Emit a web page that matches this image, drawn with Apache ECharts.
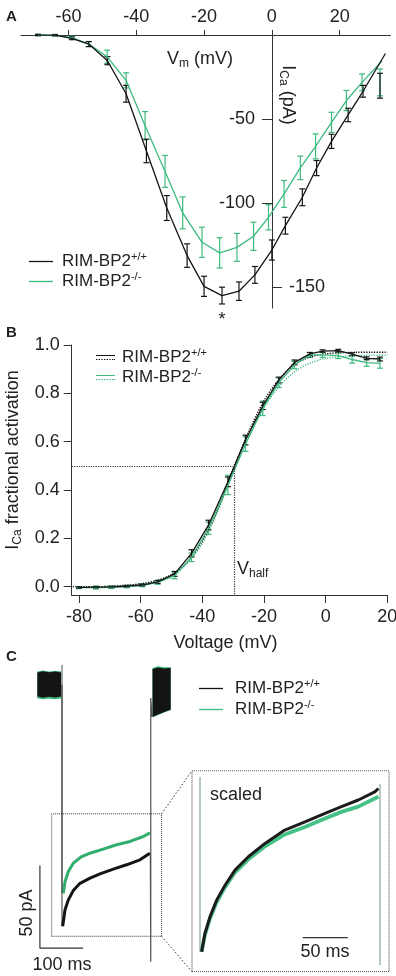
<!DOCTYPE html>
<html>
<head>
<meta charset="utf-8">
<script src="https://cdn.jsdelivr.net/npm/echarts@6/dist/echarts.min.js"></script>
<style>
  html, body { margin: 0; padding: 0; background: #fff; }
  #chart { width: 396px; height: 976px; }
</style>
</head>
<body>
<div id="chart"></div>
<script>
// ---------- panel A : I-V curve ----------
const ivWtV = [-69, -64, -59, -54, -48.5, -43, -37, -31, -25, -20, -14.7, -9.7, -5, 0, 4, 9, 13.2, 17.6, 22.5, 26.9, 31.9];
const ivWtI = [0, -0.1, -2, -5.4, -15.3, -35, -69, -103, -131.3, -149.6, -155.1, -152.5, -142.8, -128, -113.5, -96.6, -79.2, -63.3, -47.6, -33.5, -30.2];
const ivWtErr = [0.4, 0.4, 0.8, 1.5, 2.4, 5, 7, 7.4, 7, 6, 5, 5.5, 5, 6, 5, 5, 4.5, 4.2, 4, 3.5, 7.4];
const ivWtEnd = [33.5, -11];
const ivKoV = [-69, -64, -59, -54, -48.6, -43, -37.4, -31.5, -26.3, -20.6, -15.4, -10.3, -5.4, -1, 3.6, 8.4, 12.9, 17.6, 22, 26.6, 31.9];
const ivKoI = [0, -0.2, -1.6, -5.4, -13, -27, -54, -81.2, -105.9, -123.4, -129.7, -126.4, -119.8, -108.5, -94.6, -79.1, -66.3, -52, -39, -28.2, -28.2];
const ivKoErr = [0.4, 0.4, 0.8, 1.5, 4, 4.5, 8.4, 9.5, 9.5, 9, 9, 8.3, 8.4, 7.5, 8, 7, 7.4, 6, 6, 5, 8];
const ivKoEnd = [32.5, -15.5];
const ivXTicks = [-60, -40, -20, 0, 20];
const ivYTicksLeft = [-50, -100];
const ivYTicksRight = [-150];

// ---------- panel B : activation ----------
const actV = [-80, -74.5, -69.5, -64.5, -59.5, -54.5, -49, -43.5, -38, -31.7, -26, -20.4, -15.2, -10.1, -5.1, -1, 4.1, 8.6, 13.3, 17.6];
const actWt = [-0.003, -0.002, -0.001, 0.002, 0.007, 0.02, 0.053, 0.138, 0.255, 0.434, 0.607, 0.748, 0.855, 0.928, 0.963, 0.975, 0.977, 0.962, 0.945, 0.942];
const actWtErr = [0.003, 0.003, 0.003, 0.003, 0.004, 0.006, 0.01, 0.015, 0.02, 0.02, 0.02, 0.015, 0.012, 0.01, 0.006, 0.005, 0.005, 0.006, 0.006, 0.008];
const actKo = [-0.004, -0.004, -0.003, 0, 0.005, 0.018, 0.045, 0.122, 0.242, 0.421, 0.59, 0.738, 0.844, 0.917, 0.959, 0.959, 0.956, 0.94, 0.927, 0.924];
const actKoErr = [0.004, 0.006, 0.004, 0.004, 0.005, 0.008, 0.012, 0.018, 0.025, 0.04, 0.03, 0.03, 0.02, 0.015, 0.01, 0.01, 0.012, 0.015, 0.015, 0.02];
const fitV = [-82, -75, -70, -65, -60, -55, -50, -45, -40, -35, -30, -25, -20, -15, -10, -5, 0, 5, 10, 15, 20];
const fitWt = [0, 0, 0.002, 0.006, 0.012, 0.025, 0.05, 0.1, 0.19, 0.32, 0.49, 0.64, 0.77, 0.86, 0.92, 0.95, 0.963, 0.968, 0.97, 0.97, 0.97];
const fitKo = [0, 0, 0.002, 0.006, 0.012, 0.024, 0.048, 0.095, 0.18, 0.31, 0.47, 0.62, 0.74, 0.83, 0.89, 0.925, 0.945, 0.952, 0.956, 0.958, 0.958];
const vHalf = -29.8;
const actXTicks = [-80, -60, -40, -20, 0, 20];
const actYTicks = [0, 0.2, 0.4, 0.6, 0.8, 1.0];

// ---------- panel C : current traces (ms, pA) ----------
const holdT = [-57, -44, -30, -16, -2];
const holdWtHi = [7.5, 8.2, 7.6, 8.0, 7.4];
const holdWtLo = [-7.0, -7.8, -7.2, -7.6, -7.0];
const holdKoHi = [8.0, 8.6, 8.0, 8.4, 8.2];
const holdKoLo = [-8.2, -8.8, -8.4, -8.7, -8.2];
const tailT = [209, 222, 236, 251];
const tailWtHi = [9.5, 10.5, 9.8, 10.2];
const tailWtLo = [-19.5, -18.0, -16.5, -15.0];
const tailKoHi = [10.2, 11.2, 10.6, 10.8];
const tailKoLo = [-19.8, -18.3, -16.8, -15.3];
const stepOn = 0, stepOff = 205, tailPeak = -167.4, tailReturn = -8;
const wtDecayT = [1.6, 7, 14.6, 26, 41.6, 64.7, 87.8, 118.5, 149, 180, 203];
const wtDecayI = [-146, -136, -130, -124.4, -120, -116.9, -114.3, -111.4, -108.8, -105.8, -101.8];
const koDecayT = [3, 7, 14.6, 26, 45.5, 64.7, 95, 126, 157, 188, 203];
const koDecayI = [-126, -119, -112.9, -107.8, -103.8, -101.8, -99.3, -96.7, -94.7, -91.7, -89.5];
const insetT = [-23.8, 230];
const insetI = [-152, -78];
const scaleBarLeft = { t: -51, i: -159.2, dt: 100, di: 50 };

// scaled inset (ms from step onset, pA scaled to wild-type peak)
const zoomWinT = [-11.1, 207.8];
const zoomWinI = [-150.8, -96.6];
const zoomT = [-0.4, 3.3, 8.9, 16.3, 25.6, 36.7, 51.5, 70, 92, 114.4, 136.7, 155, 173.7, 192, 196];
const zoomWt = [-145.4, -140.5, -136, -131.5, -127.5, -123.4, -119.8, -116.2, -112.6, -110.4, -108.1, -106.3, -104.5, -102.3, -101.4];
const zoomKo = [-145.4, -140.8, -136.4, -132, -128, -124, -120.5, -117, -113.8, -111.8, -109.5, -107.7, -106.3, -104.1, -103.6];
const zoomOnLine = [-2.2, -98.3, -145.4];
const zoomOffLine = [197.8, -100.1, -149];
const scaleBarRight = { t: 112, i: -141.6, dt: 50 };

const BLACK = '#141414';
const GREEN = '#3dba7e';
const AXIS = '#333';
const FONT = 'Liberation Sans, Arial, sans-serif';
const BAR_ICON = 'path://M0,0H20V1H0Z';
const PAIR_ICON = 'path://M0,0H20V1H0Z M0,4H1.4V5H0Z M2.8,4H4.2V5H2.8Z M5.6,4H7V5H5.6Z M8.4,4H9.8V5H8.4Z M11.2,4H12.6V5H11.2Z M14,4H15.4V5H14Z M16.8,4H18.2V5H16.8Z M18.9,4H20V5H18.9Z';

const chart = echarts.init(document.getElementById('chart'));

const pairs = (xs, ys) => xs.map((x, i) => [x, ys[i]]);
const triples = (xs, ys, es) => xs.map((x, i) => [x, ys[i], es[i]]);

function errBars(color, cap) {
  return function (params, api) {
    const x = api.value(0), y = api.value(1), e = api.value(2);
    const top = api.coord([x, y + e]);
    const bot = api.coord([x, y - e]);
    const style = { stroke: color, lineWidth: 1.2 };
    return {
      type: 'group',
      children: [
        { type: 'line', shape: { x1: top[0], y1: top[1], x2: bot[0], y2: bot[1] }, style },
        { type: 'line', shape: { x1: top[0] - cap, y1: top[1], x2: top[0] + cap, y2: top[1] }, style },
        { type: 'line', shape: { x1: bot[0] - cap, y1: bot[1], x2: bot[0] + cap, y2: bot[1] }, style }
      ]
    };
  };
}

function bandSeries(color, bands) {
  return {
    type: 'custom', xAxisIndex: 2, yAxisIndex: 3, silent: true,
    data: bands.map((b) => [b.t[0], b.hi[0]]),
    renderItem: function (params, api) {
      const b = bands[params.dataIndex];
      const upper = b.t.map((t, i) => api.coord([t, b.hi[i]]));
      const lower = b.t.map((t, i) => api.coord([t, b.lo[i]])).reverse();
      return { type: 'polygon', shape: { points: upper.concat(lower) }, style: { fill: color } };
    }
  };
}

const lineBase = { type: 'line', symbol: 'none', showSymbol: false, silent: true, animation: false };

const legendText = {
  fontSize: 17, color: '#222', fontFamily: FONT,
  rich: {
    t: { fontSize: 17, lineHeight: 19, fontFamily: FONT, color: '#222' },
    s: { fontSize: 11, lineHeight: 10, padding: [0, 0, 9, 0], fontFamily: FONT, color: '#222' }
  }
};
const legendFmt = (name) => '{t|RIM-BP2}{s|' + name.slice(-3) + '}';
const gridBase = { outerBoundsMode: 'none', containLabel: false };

const option = {
  animation: false,
  textStyle: { fontFamily: FONT, color: '#222' },
  grid: [
    Object.assign({ left: 21, top: 35, width: 369.5, height: 273 }, gridBase),
    Object.assign({ left: 71.7, top: 345, width: 315.6, height: 250 }, gridBase),
    Object.assign({ left: 18.7, top: 660, width: 173.2, height: 314.3 }, gridBase),
    Object.assign({ left: 192, top: 770.7, width: 197, height: 201 }, gridBase)
  ],
  xAxis: [
    {
      gridIndex: 0, type: 'value', min: -74, max: 35, position: 'top',
      axisLine: { onZero: false, lineStyle: { color: AXIS } },
      axisTick: { length: 5, customValues: ivXTicks, lineStyle: { color: AXIS } },
      axisLabel: { customValues: ivXTicks, margin: 9, fontSize: 18, color: '#222' },
      splitLine: { show: false }
    },
    {
      gridIndex: 1, type: 'value', min: -82.37, max: 20,
      axisLine: { onZero: false, lineStyle: { color: AXIS } },
      axisTick: { length: 8, customValues: actXTicks, lineStyle: { color: AXIS } },
      axisLabel: { customValues: actXTicks, margin: 13, fontSize: 18, color: '#222' },
      splitLine: { show: false },
      name: 'Voltage (mV)', nameLocation: 'middle', nameGap: 39,
      nameTextStyle: { fontSize: 18, color: '#222', padding: [0, 8, 0, 0] }
    },
    { gridIndex: 2, type: 'value', min: -100, max: 300, show: false },
    { gridIndex: 3, type: 'value', min: zoomWinT[0], max: zoomWinT[1], show: false }
  ],
  yAxis: [
    {
      // current axis drawn at Vm = 0
      gridIndex: 0, type: 'value', min: -162.5, max: 0, position: 'left', offset: -251,
      axisLine: { show: true, onZero: false, lineStyle: { color: AXIS } },
      axisTick: { show: true, length: 10, customValues: ivYTicksLeft, lineStyle: { color: AXIS } },
      axisLabel: { customValues: ivYTicksLeft, margin: 17, fontSize: 18, color: '#222' },
      splitLine: { show: false }
    },
    {
      gridIndex: 0, type: 'value', min: -162.5, max: 0, position: 'left', offset: -251,
      axisLine: { show: false, onZero: false },
      axisTick: { show: true, inside: true, length: 10, customValues: ivYTicksRight, lineStyle: { color: AXIS } },
      axisLabel: { inside: true, customValues: ivYTicksRight, margin: 17, fontSize: 18, color: '#222' },
      splitLine: { show: false }
    },
    {
      gridIndex: 1, type: 'value', min: -0.0343, max: 1.0,
      axisLine: { show: true, onZero: false, lineStyle: { color: AXIS } },
      axisTick: { show: true, length: 8, customValues: actYTicks, lineStyle: { color: AXIS } },
      axisLabel: { customValues: actYTicks, margin: 12, fontSize: 18, color: '#222', formatter: (v) => v.toFixed(1) },
      splitLine: { show: false },
      name: '{m|I}{s|Ca}{m| fractional activation}', nameLocation: 'middle', nameGap: 44, nameRotate: 90,
      nameTextStyle: {
        padding: [0, 0, 0, 20],
        rich: {
          m: { fontSize: 18, lineHeight: 22, fontFamily: FONT, color: '#222' },
          s: { fontSize: 12, lineHeight: 12, padding: [10, 0, 0, 0], fontFamily: FONT, color: '#222' }
        }
      }
    },
    { gridIndex: 2, type: 'value', min: -175, max: 15, show: false },
    { gridIndex: 3, type: 'value', min: zoomWinI[0], max: zoomWinI[1], show: false }
  ],
  legend: [
    {
      left: 24, top: 246.5, orient: 'vertical', itemWidth: 24, itemHeight: 1.3, itemGap: 0,
      data: [{ name: 'A RIM-BP2+/+', icon: BAR_ICON }, { name: 'A RIM-BP2-/-', icon: BAR_ICON }],
      formatter: legendFmt, symbolKeepAspect: false, itemStyle: { borderWidth: 0 },
      textStyle: Object.assign({ padding: [0, 0, 0, 4] }, legendText), selectedMode: false
    },
    {
      left: 91, top: 342.5, orient: 'vertical', itemWidth: 19, itemHeight: 5, itemGap: 0,
      data: [{ name: 'B RIM-BP2+/+', icon: PAIR_ICON }, { name: 'B RIM-BP2-/-', icon: PAIR_ICON }],
      formatter: legendFmt, symbolKeepAspect: false, itemStyle: { borderWidth: 0 },
      textStyle: Object.assign({ padding: [0, 0, 0, 2] }, legendText), selectedMode: false
    },
    {
      left: 194, top: 673.5, orient: 'vertical', itemWidth: 24, itemHeight: 1.3, itemGap: 1,
      data: [{ name: 'C RIM-BP2+/+', icon: BAR_ICON }, { name: 'C RIM-BP2-/-', icon: BAR_ICON }],
      formatter: legendFmt, symbolKeepAspect: false, itemStyle: { borderWidth: 0 },
      textStyle: Object.assign({ padding: [0, 0, 0, 7] }, legendText), selectedMode: false
    }
  ],
  series: [
    // ----- A -----
    Object.assign({}, lineBase, {
      name: 'A RIM-BP2-/-', xAxisIndex: 0, yAxisIndex: 0, color: GREEN,
      lineStyle: { width: 1.3, color: GREEN },
      data: pairs(ivKoV.slice(0, -1), ivKoI).concat([ivKoEnd])
    }),
    Object.assign({}, lineBase, {
      name: 'A RIM-BP2+/+', xAxisIndex: 0, yAxisIndex: 0, color: BLACK,
      lineStyle: { width: 1.3, color: BLACK },
      data: pairs(ivWtV.slice(0, -1), ivWtI).concat([ivWtEnd])
    }),
    {
      type: 'custom', xAxisIndex: 0, yAxisIndex: 0, silent: true, clip: false,
      encode: { x: 0, y: 1 }, renderItem: errBars(GREEN, 3),
      data: triples(ivKoV, ivKoI, ivKoErr)
    },
    {
      type: 'custom', xAxisIndex: 0, yAxisIndex: 0, silent: true, clip: false,
      encode: { x: 0, y: 1 }, renderItem: errBars(BLACK, 3),
      data: triples(ivWtV, ivWtI, ivWtErr)
    },
    // ----- B -----
    Object.assign({}, lineBase, {
      xAxisIndex: 1, yAxisIndex: 2, smooth: 0.3,
      lineStyle: { width: 1.3, color: GREEN, type: 'dotted' },
      data: pairs(fitV, fitKo)
    }),
    Object.assign({}, lineBase, {
      xAxisIndex: 1, yAxisIndex: 2, smooth: 0.3,
      lineStyle: { width: 1.3, color: BLACK, type: 'dotted' },
      data: pairs(fitV, fitWt)
    }),
    Object.assign({}, lineBase, {
      name: 'B RIM-BP2-/-', xAxisIndex: 1, yAxisIndex: 2, color: GREEN,
      lineStyle: { width: 1.3, color: GREEN },
      data: pairs(actV, actKo)
    }),
    Object.assign({}, lineBase, {
      name: 'B RIM-BP2+/+', xAxisIndex: 1, yAxisIndex: 2, color: BLACK,
      lineStyle: { width: 1.3, color: BLACK },
      data: pairs(actV, actWt),
      markLine: {
        silent: true, symbol: 'none', label: { show: false },
        lineStyle: { color: AXIS, type: 'dotted', width: 1.2 },
        data: [
          [{ coord: [-82.37, 0.5] }, { coord: [vHalf, 0.5] }],
          [{ coord: [vHalf, 0.5] }, { coord: [vHalf, -0.0343] }]
        ]
      }
    }),
    {
      type: 'custom', xAxisIndex: 1, yAxisIndex: 2, silent: true, clip: false,
      encode: { x: 0, y: 1 }, renderItem: errBars(GREEN, 3),
      data: triples(actV, actKo, actKoErr)
    },
    {
      type: 'custom', xAxisIndex: 1, yAxisIndex: 2, silent: true, clip: false,
      encode: { x: 0, y: 1 }, renderItem: errBars(BLACK, 3),
      data: triples(actV, actWt, actWtErr)
    },
    // ----- C left -----
    bandSeries(GREEN, [
      { t: holdT, hi: holdKoHi, lo: holdKoLo },
      { t: tailT, hi: tailKoHi, lo: tailKoLo }
    ]),
    bandSeries(BLACK, [
      { t: holdT, hi: holdWtHi, lo: holdWtLo },
      { t: tailT, hi: tailWtHi, lo: tailWtLo }
    ]),
    Object.assign({}, lineBase, {
      xAxisIndex: 2, yAxisIndex: 3, lineStyle: { width: 1, color: '#4a5a52' },
      data: [[stepOn, 12], [stepOn, koDecayI[0]]]
    }),
    Object.assign({}, lineBase, {
      name: 'C RIM-BP2-/-', xAxisIndex: 2, yAxisIndex: 3, color: GREEN,
      lineStyle: { width: 3, color: '#2fae6e' },
      data: pairs(koDecayT, koDecayI)
    }),
    Object.assign({}, lineBase, {
      xAxisIndex: 2, yAxisIndex: 3, lineStyle: { width: 1, color: '#3a3a3a' },
      data: [[stepOn, 0], [stepOn, wtDecayI[0]]]
    }),
    Object.assign({}, lineBase, {
      name: 'C RIM-BP2+/+', xAxisIndex: 2, yAxisIndex: 3, color: BLACK,
      lineStyle: { width: 3, color: BLACK },
      data: pairs(wtDecayT, wtDecayI)
    }),
    Object.assign({}, lineBase, {
      xAxisIndex: 2, yAxisIndex: 3, lineStyle: { width: 1.2, color: '#4d5550' },
      data: [[stepOff - 1, wtDecayI[wtDecayI.length - 1]], [stepOff, tailPeak], [stepOff, tailReturn], [stepOff + 3, tailWtLo[0]]]
    }),
    Object.assign({}, lineBase, {
      xAxisIndex: 2, yAxisIndex: 3, lineStyle: { width: 1, color: AXIS, type: 'dotted' },
      data: [[insetT[0], insetI[0]], [insetT[1], insetI[0]], [insetT[1], insetI[1]], [insetT[0], insetI[1]], [insetT[0], insetI[0]]]
    }),
    Object.assign({}, lineBase, {
      xAxisIndex: 2, yAxisIndex: 3, lineStyle: { width: 1.2, color: AXIS },
      data: [[scaleBarLeft.t, scaleBarLeft.i + scaleBarLeft.di], [scaleBarLeft.t, scaleBarLeft.i], [scaleBarLeft.t + scaleBarLeft.dt, scaleBarLeft.i]]
    }),
    // ----- C right (scaled) -----
    Object.assign({}, lineBase, {
      xAxisIndex: 3, yAxisIndex: 4, lineStyle: { width: 1.2, color: '#86a597' },
      data: [[zoomOnLine[0], zoomOnLine[1]], [zoomOnLine[0], zoomOnLine[2]]]
    }),
    Object.assign({}, lineBase, {
      xAxisIndex: 3, yAxisIndex: 4, lineStyle: { width: 1.2, color: '#86a597' },
      data: [[zoomOffLine[0], zoomOffLine[1]], [zoomOffLine[0], zoomOffLine[2]]]
    }),
    Object.assign({}, lineBase, {
      xAxisIndex: 3, yAxisIndex: 4, lineStyle: { width: 3.8, color: '#45c186' },
      data: pairs(zoomT, zoomKo)
    }),
    Object.assign({}, lineBase, {
      xAxisIndex: 3, yAxisIndex: 4, lineStyle: { width: 3, color: '#1c1c1c' },
      data: pairs(zoomT, zoomWt)
    }),
    Object.assign({}, lineBase, {
      xAxisIndex: 3, yAxisIndex: 4, lineStyle: { width: 1, color: AXIS, type: 'dotted' },
      data: [[zoomWinT[0], zoomWinI[0]], [zoomWinT[1], zoomWinI[0]], [zoomWinT[1], zoomWinI[1]], [zoomWinT[0], zoomWinI[1]], [zoomWinT[0], zoomWinI[0]]]
    }),
    Object.assign({}, lineBase, {
      xAxisIndex: 3, yAxisIndex: 4, lineStyle: { width: 1.2, color: AXIS },
      data: [[scaleBarRight.t, scaleBarRight.i], [scaleBarRight.t + scaleBarRight.dt, scaleBarRight.i]]
    })
  ]
};

chart.setOption(option);

// text annotations and the zoom connectors
const subRich = {
  m: { fontSize: 18, lineHeight: 22, fontFamily: FONT, fill: '#222' },
  s: { fontSize: 12, lineHeight: 12, padding: [10, 0, 0, 0], fontFamily: FONT, fill: '#222' }
};
const txt = (x, y, text, extra) => Object.assign({
  type: 'text', x: x, y: y, silent: true,
  style: Object.assign({ text: text, fontSize: 18, fontFamily: FONT, fill: '#222', align: 'left', verticalAlign: 'middle' }, extra || {})
});
const c1 = chart.convertToPixel({ xAxisIndex: 2, yAxisIndex: 3 }, [insetT[1], insetI[1]]);
const c2 = chart.convertToPixel({ xAxisIndex: 2, yAxisIndex: 3 }, [insetT[1], insetI[0]]);
const d1 = chart.convertToPixel({ xAxisIndex: 3, yAxisIndex: 4 }, [zoomWinT[0], zoomWinI[1]]);
const d2 = chart.convertToPixel({ xAxisIndex: 3, yAxisIndex: 4 }, [zoomWinT[0], zoomWinI[0]]);
const dotted = { stroke: AXIS, lineWidth: 1, lineDash: [1.5, 2] };

chart.setOption({
  graphic: [
    txt(6, 17, 'A', { fontWeight: 'bold', fontSize: 15 }),
    txt(6, 333, 'B', { fontWeight: 'bold', fontSize: 15 }),
    txt(6, 657, 'C', { fontWeight: 'bold', fontSize: 15 }),
    txt(167, 59, '{m|V}{s|m}{m| (mV)}', { rich: subRich }),
    { type: 'text', x: 288, y: 95, rotation: -Math.PI / 2, silent: true,
      style: { text: '{m|I}{s|Ca}{m| (pA)}', rich: subRich, align: 'center', verticalAlign: 'middle' } },
    txt(222, 320, '*', { align: 'center', fontSize: 18 }),
    txt(237, 569, '{m|V}{s|half}', { rich: subRich }),
    txt(210, 795, 'scaled', { fontSize: 18 }),
    txt(325, 952, '50 ms', { align: 'center' }),
    txt(62, 965, '100 ms', { align: 'center' }),
    { type: 'text', x: 27, y: 913, rotation: Math.PI / 2, silent: true,
      style: { text: '50 pA', fontSize: 18, fontFamily: FONT, fill: '#222', align: 'center', verticalAlign: 'middle' } },
    { type: 'line', silent: true, shape: { x1: c1[0], y1: c1[1], x2: d1[0], y2: d1[1] }, style: dotted },
    { type: 'line', silent: true, shape: { x1: c2[0], y1: c2[1], x2: d2[0], y2: d2[1] }, style: dotted }
  ]
});
</script>
</body>
</html>
